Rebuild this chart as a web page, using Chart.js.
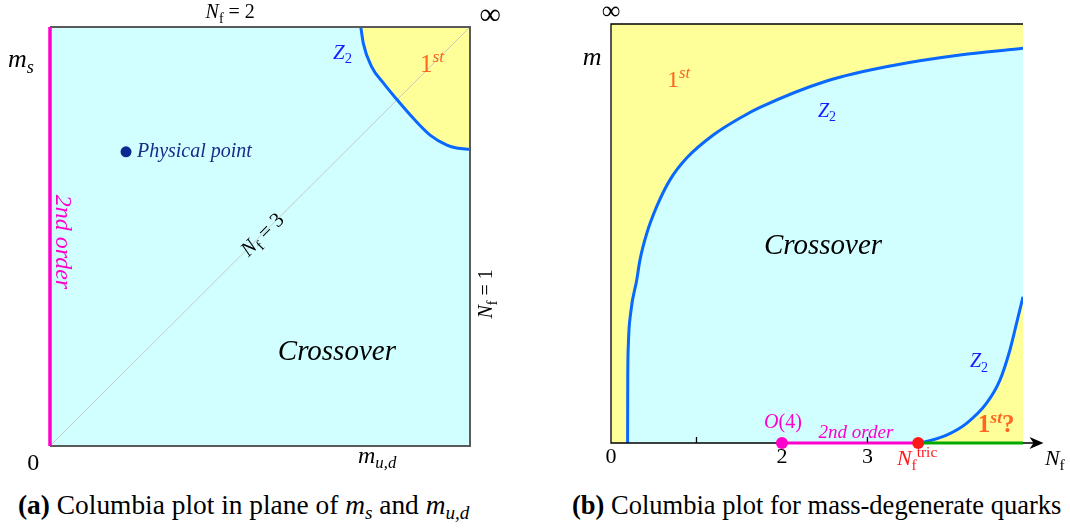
<!DOCTYPE html>
<html><head><meta charset="utf-8">
<script src="https://cdn.jsdelivr.net/npm/chart.js@4.4.0/dist/chart.umd.min.js"></script>
<style>
html,body{margin:0;padding:0;background:#fff;width:1070px;height:529px;overflow:hidden;}
#wa{position:absolute;left:0;top:0;width:535px;height:480px;}
#wb{position:absolute;left:535px;top:0;width:535px;height:480px;}
.cap{position:absolute;top:492px;font-family:"Liberation Serif",serif;line-height:27px;white-space:nowrap;color:#000;}
.cap sub{font-size:0.7em;line-height:0;vertical-align:-0.25em;}
</style></head><body>
<div id="wa"><canvas id="ca" width="535" height="480"></canvas></div>
<div id="wb"><canvas id="cb" width="535" height="480"></canvas></div>
<div class="cap" id="capa" style="left:18px;font-size:27.4px;"><b>(a)</b> Columbia plot in plane of <i>m<sub>s</sub></i> and <i>m<sub>u,d</sub></i></div>
<div class="cap" id="capb" style="left:572px;font-size:26.5px;"><b>(b)</b> Columbia plot for mass-degenerate quarks</div>
<script>
// ---------- Panel (a) data: Z2 boundary in (m_ud, m_s) plane (normalized 0..1) ----------
const z2A_x = [0.740, 0.746, 0.766, 0.794, 0.825, 0.865, 0.905, 0.945, 0.968, 1.000];
const z2A_y = [1.000, 0.961, 0.905, 0.866, 0.828, 0.782, 0.742, 0.718, 0.711, 0.708];
const physPoint_x = [0.181];
const physPoint_y = [0.702];
// ---------- Panel (b) data: mass-degenerate quarks, x = N_f, y = m (normalized) ----------
const z2Up_x = [0.194, 0.196, 0.202, 0.230, 0.301, 0.339, 0.418, 0.534, 0.690, 0.885, 1.196, 1.547, 1.743, 2.523, 3.298, 4.082, 4.820];
const z2Up_y = [0.000, 0.150, 0.229, 0.310, 0.389, 0.437, 0.500, 0.564, 0.628, 0.680, 0.735, 0.780, 0.801, 0.864, 0.901, 0.926, 0.942];
const z2Lo_x = [3.594, 3.653, 3.926, 4.160, 4.394, 4.550, 4.667, 4.745, 4.820];
const z2Lo_y = [0.000, 0.002, 0.019, 0.047, 0.095, 0.150, 0.222, 0.286, 0.349];
const nfO4 = 2;
const nfTric = 3.594;
const nfMax = 4.82;
const nfTickLabels = ['0', '2', '3'];
const nfTickLabelValues = [0, 2, 3];
const nfTickMarks = [1, 2, 3];

const CYAN = '#d1ffff', YELLOW = '#ffff99', BLUE = '#0a68ff', MAG = '#ff00cc',
      ORANGE = '#ff6622', RED = '#ff1a1a', GREEN = '#00aa00', ZBLUE = '#1a1aff';

const pts = (xs, ys) => xs.map((x, i) => ({x, y: ys[i]}));
// first listed dataset is drawn first (underneath)
const ordered = list => list.map((d, i) => Object.assign({order: list.length - i}, d));

const FF = '"Liberation Serif", "DejaVu Serif", serif';
function fontFor(r, size){ return (r.i ? 'italic ' : '') + (r.b ? 'bold ' : '') + size + 'px ' + FF; }
function drawRich(ctx, runs, x, y, o){
  const size = o.size || 22;
  ctx.save();
  ctx.translate(x, y);
  if (o.rot) ctx.rotate(o.rot);
  let w = 0; const parts = [];
  for (const r of runs){
    const s = (r.sub || r.sup) ? size * 0.7 : size;
    ctx.font = fontFor(r, s);
    const mw = ctx.measureText(r.t).width;
    parts.push({r, s, x: w});
    w += mw + (r.gap || 0);
  }
  const x0 = o.align === 'left' ? 0 : (o.align === 'right' ? -w : -w / 2);
  const yOff = o.vmid ? size * 0.32 : 0;
  ctx.textBaseline = 'alphabetic';
  ctx.textAlign = 'left';
  for (const p of parts){
    ctx.font = fontFor(p.r, p.s);
    ctx.fillStyle = p.r.c || o.color || '#000';
    const dy = p.r.sub ? size * 0.22 : (p.r.sup ? -size * 0.38 : 0);
    ctx.fillText(p.r.t, x0 + p.x, yOff + dy);
  }
  ctx.restore();
}

function bgPlugin(color){
  return { id: 'bg', beforeDatasetsDraw(chart){
    const a = chart.chartArea, ctx = chart.ctx;
    ctx.save(); ctx.fillStyle = color; ctx.fillRect(a.left, a.top, a.right - a.left, a.bottom - a.top); ctx.restore();
  }};
}
function labelPlugin(items, extra){
  return { id: 'labels', afterDraw(chart){
    const ctx = chart.ctx, xs = chart.scales.x, ys = chart.scales.y;
    if (extra) extra(chart);
    for (const L of items){
      drawRich(ctx, L.runs, xs.getPixelForValue(L.x), ys.getPixelForValue(L.y), L);
    }
  }};
}

const baseOpts = (pad, xmin, xmax) => ({
  responsive: false, animation: false,
  layout: { padding: pad },
  plugins: { legend: { display: false }, tooltip: { enabled: false } },
  scales: {
    x: { type: 'linear', display: false, min: xmin, max: xmax },
    y: { type: 'linear', display: false, min: 0, max: 1 }
  },
  elements: { point: { radius: 0 } }
});

// ---------------- Chart (a) ----------------
const z2A = pts(z2A_x, z2A_y);
const labelsA = [
  {x: 0.429, y: 1.021, size: 20, runs: [{t: 'N', i: 1}, {t: 'f', sub: 1}, {t: ' = 2'}]},
  {x: 1.048, y: 1.006, size: 30, runs: [{t: '∞'}]},
  {x: -0.100, y: 0.905, size: 26, align: 'left', runs: [{t: 'm', i: 1}, {t: 's', i: 1, sub: 1}]},
  {x: 0.674, y: 0.924, size: 21, align: 'left', color: ZBLUE, runs: [{t: 'Z', i: 1}, {t: '2', sub: 1}]},
  {x: 0.881, y: 0.893, size: 25, align: 'left', color: ORANGE, runs: [{t: '1'}, {t: 'st', i: 1, sup: 1}]},
  {x: 0.207, y: 0.690, size: 20, align: 'left', color: '#1a2a8a', runs: [{t: 'Physical point', i: 1}]},
  {x: 0.033, y: 0.487, size: 24, vmid: 1, rot: Math.PI / 2, color: MAG, runs: [{t: '2nd order', i: 1}]},
  {x: 0.505, y: 0.505, size: 21, vmid: 1, rot: -Math.PI / 4, runs: [{t: 'N', i: 1}, {t: 'f', sub: 1}, {t: ' = 3'}]},
  {x: 1.038, y: 0.363, size: 20, vmid: 1, rot: -Math.PI / 2, runs: [{t: 'N', i: 1}, {t: 'f', sub: 1}, {t: ' = 1'}]},
  {x: 0.683, y: 0.205, size: 29, runs: [{t: 'Crossover', i: 1}]},
  {x: -0.040, y: -0.057, size: 24, runs: [{t: '0'}]},
  {x: 0.779, y: -0.041, size: 24, runs: [{t: 'm', i: 1}, {t: 'u,d', i: 1, sub: 1}]}
];
new Chart(document.getElementById('ca'), {
  type: 'scatter',
  data: { datasets: ordered([
    { data: z2A, showLine: true, fill: 'end', backgroundColor: YELLOW, borderWidth: 0, cubicInterpolationMode: 'monotone' },
    { data: [{x: 0, y: 0}, {x: 1, y: 1}], showLine: true, borderColor: '#c8c8c8', borderWidth: 1 },
    { data: z2A, showLine: true, borderColor: BLUE, borderWidth: 3, cubicInterpolationMode: 'monotone' },
    { data: [{x: 0, y: 1}, {x: 1, y: 1}, {x: 1, y: 0}, {x: 0, y: 0}], showLine: true, borderColor: '#5a5a5a', borderWidth: 2, clip: false },
    { data: [{x: 0, y: 0}, {x: 0, y: 1}], showLine: true, borderColor: MAG, borderWidth: 3.5, clip: false },
    { data: pts(physPoint_x, physPoint_y), pointRadius: 5.5, pointBackgroundColor: '#0a2a8f', pointBorderWidth: 0 }
  ])},
  options: baseOpts({left: 50, top: 27, right: 65, bottom: 34}, 0, 1),
  plugins: [bgPlugin(CYAN), labelPlugin(labelsA)]
});

// ---------------- Chart (b) ----------------
const z2Up = pts(z2Up_x, z2Up_y);
const z2Lo = pts(z2Lo_x, z2Lo_y);
const labelsB = [
  {x: 0, y: 1.012, size: 26, runs: [{t: '∞'}]},
  {x: -0.222, y: 0.902, size: 26, runs: [{t: 'm', i: 1}]},
  {x: 0.655, y: 0.850, size: 24, align: 'left', color: ORANGE, runs: [{t: '1'}, {t: 'st', i: 1, sup: 1}]},
  {x: 2.421, y: 0.778, size: 20, align: 'left', color: ZBLUE, runs: [{t: 'Z', i: 1}, {t: '2', sub: 1}]},
  {x: 2.480, y: 0.451, size: 29, runs: [{t: 'Crossover', i: 1}]},
  {x: 4.199, y: 0.181, size: 20, align: 'left', color: ZBLUE, runs: [{t: 'Z', i: 1}, {t: '2', sub: 1}]},
  {x: 4.292, y: 0.026, size: 25, align: 'left', color: ORANGE, runs: [{t: '1', b: 1}, {t: 'st', b: 1, i: 1, sup: 1}, {t: '?', b: 1}]},
  {x: 2.012, y: 0.036, size: 20, color: MAG, runs: [{t: 'O', i: 1}, {t: '(4)'}]},
  {x: 2.865, y: 0.012, size: 19, color: MAG, runs: [{t: '2nd order', i: 1}]},
  {x: 3.345, y: -0.0525, size: 22, align: 'left', color: RED, runs: [{t: 'N', i: 1}, {t: 'f', sub: 1}, {t: 'tric', sup: 1, gap: 0}]},
  {x: 5.076, y: -0.0525, size: 22, align: 'left', runs: [{t: 'N', i: 1}, {t: 'f', sub: 1}]}
];
nfTickLabels.forEach((t, i) => labelsB.push({x: nfTickLabelValues[i], y: -0.048, size: 22, runs: [{t}]}));

function axisExtras(chart){
  const ctx = chart.ctx, xs = chart.scales.x, ys = chart.scales.y;
  const y0 = ys.getPixelForValue(0);
  ctx.save();
  ctx.strokeStyle = '#000'; ctx.lineWidth = 1.3;
  for (const v of nfTickMarks){
    if (v === nfO4) continue;
    const px = xs.getPixelForValue(v);
    ctx.beginPath(); ctx.moveTo(px, y0); ctx.lineTo(px, y0 - 6); ctx.stroke();
  }
  // arrow head at the end of the N_f axis
  const ax = xs.getPixelForValue(5.06);
  ctx.fillStyle = '#000';
  ctx.beginPath();
  ctx.moveTo(ax, y0); ctx.lineTo(ax - 14, y0 - 6); ctx.lineTo(ax - 10, y0); ctx.lineTo(ax - 14, y0 + 6);
  ctx.closePath(); ctx.fill();
  ctx.restore();
}

new Chart(document.getElementById('cb'), {
  type: 'scatter',
  data: { datasets: ordered([
    { data: z2Up, showLine: true, fill: 'origin', backgroundColor: CYAN, borderWidth: 0, cubicInterpolationMode: 'monotone' },
    { data: z2Lo, showLine: true, fill: 'origin', backgroundColor: YELLOW, borderWidth: 0, cubicInterpolationMode: 'monotone' },
    { data: z2Up, showLine: true, borderColor: BLUE, borderWidth: 3, cubicInterpolationMode: 'monotone' },
    { data: z2Lo, showLine: true, borderColor: BLUE, borderWidth: 3, cubicInterpolationMode: 'monotone' },
    { data: [{x: nfMax, y: 1}, {x: 0, y: 1}, {x: 0, y: 0}, {x: 5.0, y: 0}], showLine: true, borderColor: '#000', borderWidth: 1.3, clip: false },
    { data: [{x: nfO4, y: 0}, {x: nfTric, y: 0}], showLine: true, borderColor: MAG, borderWidth: 3, clip: false },
    { data: [{x: nfTric, y: 0}, {x: nfMax, y: 0}], showLine: true, borderColor: GREEN, borderWidth: 3, clip: false },
    { data: [{x: nfO4, y: 0}], pointRadius: 6, pointBackgroundColor: MAG, pointBorderWidth: 0, clip: false },
    { data: [{x: nfTric, y: 0}], pointRadius: 6, pointBackgroundColor: RED, pointBorderWidth: 0, clip: false }
  ])},
  options: baseOpts({left: 76, top: 24, right: 47, bottom: 37}, 0, nfMax),
  plugins: [bgPlugin(YELLOW), labelPlugin(labelsB, axisExtras)]
});
</script>
</body></html>
